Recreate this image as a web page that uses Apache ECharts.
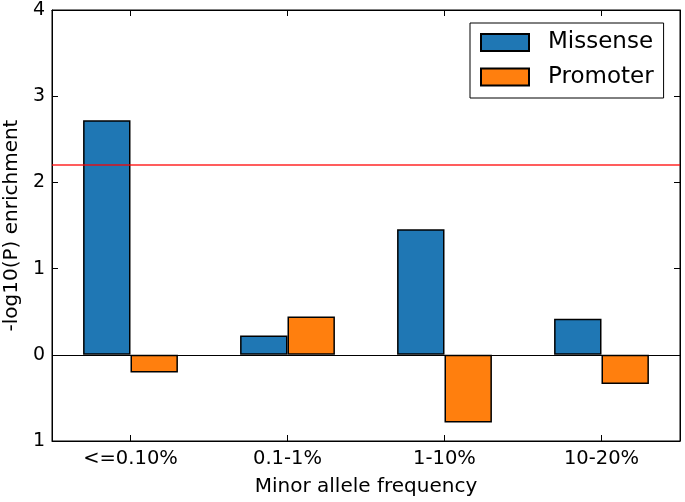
<!DOCTYPE html>
<html>
<head>
<meta charset="utf-8">
<script src="https://cdn.jsdelivr.net/npm/echarts@6/dist/echarts.min.js"></script>
<style>html,body{margin:0;padding:0;background:#fff}#c{width:685px;height:502px}</style>
</head>
<body>
<div id="c"></div>
<script>
const categories = ['<=0.10%', '0.1-1%', '1-10%', '10-20%'];
const missense = [2.72, 0.224, 1.457, 0.417];
const promoter = [-0.205, 0.444, -0.785, -0.34];
const threshold = 2.2;

const FONT = 'DejaVu Sans';
const chart = echarts.init(document.getElementById('c'), null, {renderer: 'canvas'});
const tickStyle = {show: true, inside: true, length: 6, lineStyle: {color: '#000', width: 1}};
chart.setOption({
  animation: false,
  textStyle: {fontFamily: FONT},
  grid: {left: 52, right: 5, top: 10, bottom: 61, show: true, borderColor: '#000', borderWidth: 1,
         backgroundColor: 'transparent', outerBoundsMode: 'none', containLabel: false},
  legend: {
    left: 470, top: 23,
    orient: 'vertical',
    data: ['Missense', 'Promoter'],
    itemWidth: 48, itemHeight: 17, itemGap: 10.5,
    padding: [7.5, 10, 9, 10],
    borderColor: '#000', borderWidth: 1,
    textStyle: {fontFamily: FONT, fontSize: 23, lineHeight: 24, color: '#000', padding: [0, 0, 0, 14]},
    icon: 'rect'
  },
  xAxis: [{
    type: 'category', data: categories, position: 'bottom',
    axisLine: {onZero: false, lineStyle: {color: '#000', width: 1}},
    axisTick: Object.assign({alignWithLabel: true}, tickStyle),
    axisLabel: {fontFamily: FONT, fontSize: 19.5, color: '#000', margin: 8},
    name: 'Minor allele frequency', nameLocation: 'middle', nameGap: 36,
    nameTextStyle: {fontFamily: FONT, fontSize: 20, color: '#000'}
  }, {
    type: 'category', data: categories, position: 'top',
    axisLine: {onZero: false, lineStyle: {color: '#000', width: 1}},
    axisTick: Object.assign({alignWithLabel: true}, tickStyle),
    axisLabel: {show: false}
  }],
  yAxis: [{
    type: 'value', min: -1, max: 4, interval: 1, position: 'left',
    axisLine: {show: true, lineStyle: {color: '#000', width: 1}},
    axisTick: tickStyle,
    splitLine: {show: false},
    axisLabel: {fontFamily: FONT, fontSize: 19, color: '#000', margin: 7, formatter: v => String(Math.abs(v))},
    name: '-log10(P) enrichment', nameLocation: 'middle', nameGap: 28,
    nameTextStyle: {fontFamily: FONT, fontSize: 20, color: '#000'}
  }, {
    type: 'value', min: -1, max: 4, interval: 1, position: 'right',
    axisLine: {show: true, lineStyle: {color: '#000', width: 1}},
    axisTick: tickStyle,
    splitLine: {show: false},
    axisLabel: {show: false}
  }],
  series: [{
    name: 'Missense', type: 'bar', data: missense, barWidth: '30.2%', barGap: '0%',
    itemStyle: {color: '#1f77b4', borderColor: '#000', borderWidth: 1.5},
    markLine: {
      silent: true, symbol: ['none', 'none'], label: {show: false},
      data: [
        {yAxis: 0, lineStyle: {color: '#000', width: 1, type: 'solid'}},
        {yAxis: threshold, lineStyle: {color: '#ff0000', width: 1.5, type: 'solid', opacity: 0.85}}
      ]
    }
  }, {
    name: 'Promoter', type: 'bar', data: promoter, barWidth: '30.2%', barGap: '0%',
    itemStyle: {color: '#ff7f0e', borderColor: '#000', borderWidth: 1.5}
  }]
});
</script>
</body>
</html>
